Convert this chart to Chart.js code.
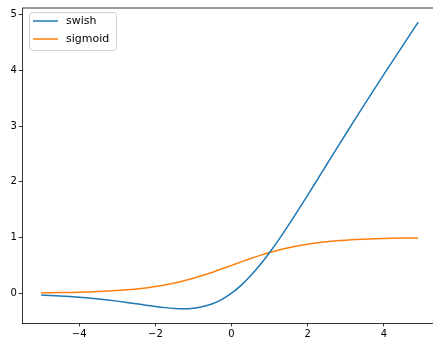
<!DOCTYPE html>
<html lang="en">
<head>
<meta charset="UTF-8">
<title>swish vs sigmoid</title>
<script src="https://cdn.jsdelivr.net/npm/chart.js"></script>
<style>
  html, body { margin: 0; padding: 0; background: #fff; overflow: hidden; }
  #wrap { width: 440px; height: 350px; }
</style>
</head>
<body>
<div id="wrap"><canvas id="chart" width="440" height="350"></canvas></div>
<script>
// x samples and the two curves
const xs = [-5, -4.75, -4.5, -4.25, -4, -3.75, -3.5, -3.25, -3, -2.75, -2.5, -2.25, -2, -1.75, -1.5, -1.25, -1, -0.75, -0.5, -0.25,
  0, 0.25, 0.5, 0.75, 1, 1.25, 1.5, 1.75, 2, 2.25, 2.5, 2.75, 3, 3.25, 3.5, 3.75, 4, 4.25, 4.5, 4.75, 4.9];
const swish = [-0.0335, -0.0408, -0.0495, -0.0598, -0.0719, -0.0862, -0.1026, -0.1213, -0.1423, -0.1652, -0.1897, -0.2145,
  -0.2384, -0.2590, -0.2736, -0.2784, -0.2689, -0.2406, -0.1888, -0.1094,
  0, 0.1406, 0.3112, 0.5094, 0.7311, 0.9716, 1.2264, 1.4910, 1.7616, 2.0355, 2.3103, 2.5847, 2.8577, 3.1288,
  3.3975, 3.6638, 3.9281, 4.1901, 4.4505, 4.7092, 4.8637];
const sigmoid = [0.0067, 0.0086, 0.0110, 0.0141, 0.0180, 0.0230, 0.0293, 0.0373, 0.0474, 0.0601, 0.0759, 0.0954,
  0.1192, 0.1480, 0.1824, 0.2227, 0.2689, 0.3208, 0.3775, 0.4378,
  0.5, 0.5622, 0.6225, 0.6792, 0.7311, 0.7773, 0.8176, 0.8520, 0.8808, 0.9047, 0.9241, 0.9399, 0.9526, 0.9627,
  0.9707, 0.9770, 0.9820, 0.9859, 0.9890, 0.9914, 0.9926];
const seriesNames = ['swish', 'sigmoid'];
const xTicks = [-4, -2, 0, 2, 4];
const yTicks = [0, 1, 2, 3, 4, 5];

const FONT = 'DejaVu Sans';
const fmt = v => (v < 0 ? '\u2212' + Math.abs(v) : String(v));

// top spine + matplotlib style legend box
const extras = {
  id: 'extras',
  afterDraw(chart) {
    const ctx = chart.ctx, a = chart.chartArea;
    ctx.save();
    ctx.strokeStyle = '#000';
    ctx.lineWidth = 0.8;
    ctx.beginPath();
    ctx.moveTo(a.left, a.top);
    ctx.lineTo(a.right + 5, a.top);
    ctx.stroke();

    const bx = 29, by = 12, bw = 87, bh = 38;
    ctx.beginPath();
    ctx.roundRect(bx + 0.5, by + 0.5, bw, bh, 3);
    ctx.fillStyle = 'rgba(255,255,255,0.8)';
    ctx.fill();
    ctx.strokeStyle = '#d0d0d0';
    ctx.lineWidth = 1;
    ctx.stroke();

    ctx.font = '11px "' + FONT + '"';
    ctx.textBaseline = 'middle';
    chart.data.datasets.forEach((ds, i) => {
      const y = 21 + i * 18;
      ctx.strokeStyle = ds.borderColor;
      ctx.lineWidth = 1.5;
      ctx.beginPath();
      ctx.moveTo(33, y);
      ctx.lineTo(58, y);
      ctx.stroke();
      ctx.fillStyle = '#000';
      ctx.fillText(ds.label, 66, y);
    });
    ctx.restore();
  }
};

new Chart(document.getElementById('chart'), {
  type: 'line',
  data: {
    datasets: [
      { label: seriesNames[0], data: xs.map((x, i) => ({ x, y: swish[i] })), borderColor: '#1f77b4' },
      { label: seriesNames[1], data: xs.map((x, i) => ({ x, y: sigmoid[i] })), borderColor: '#ff7f0e' }
    ]
  },
  options: {
    responsive: false,
    animation: false,
    layout: { padding: { top: 5, right: 3, left: 0, bottom: 0 } },
    elements: {
      point: { radius: 0 },
      line: { borderWidth: 1.5, cubicInterpolationMode: 'monotone', fill: false }
    },
    plugins: { legend: { display: false }, tooltip: { enabled: false } },
    scales: {
      x: {
        type: 'linear',
        min: -5.495, max: 5.395,
        afterBuildTicks: s => { s.ticks = xTicks.map(v => ({ value: v })); },
        afterFit: s => { s.height = 27; },
        grid: { drawOnChartArea: false, tickLength: 3.5, tickColor: '#000', tickWidth: 0.8 },
        border: { color: '#000', width: 0.8 },
        ticks: { color: '#000', font: { family: FONT, size: 10 }, padding: 2, maxRotation: 0, callback: fmt }
      },
      y: {
        type: 'linear',
        min: -0.535, max: 5.12,
        afterBuildTicks: s => { s.ticks = yTicks.map(v => ({ value: v })); },
        afterFit: s => { s.width = 22.3; },
        grid: { drawOnChartArea: false, tickLength: 3.5, tickColor: '#000', tickWidth: 0.8 },
        border: { color: '#000', width: 0.8 },
        ticks: { color: '#000', font: { family: FONT, size: 10 }, padding: 2, callback: fmt }
      }
    }
  },
  plugins: [extras]
});
</script>
</body>
</html>
